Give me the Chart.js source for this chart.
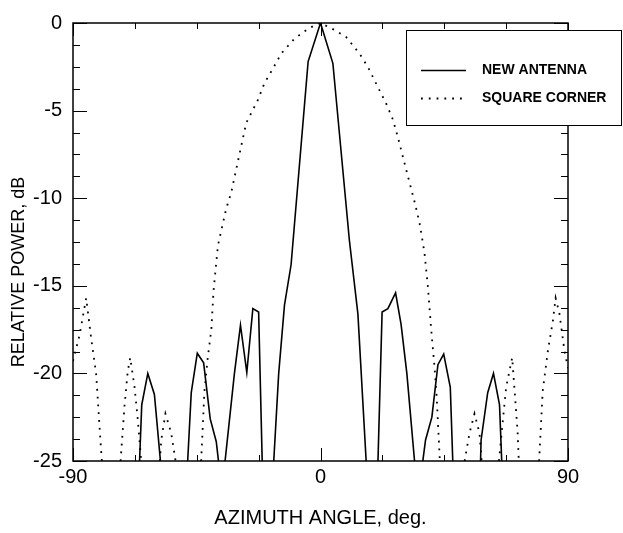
<!DOCTYPE html>
<html>
<head>
<meta charset="utf-8">
<script src="https://cdn.jsdelivr.net/npm/chart.js@4"></script>
<style>
    body {
        margin: 0;
        background: #fff;
    }
</style>
</head>
<body>
<canvas id="chart" width="623" height="533"></canvas>
<script>
// azimuth angles (deg) and relative power (dB), null = gap below -25 dB
const newAngle = [
    -65.8, -65.0, -62.8, -60.4, -58.2, null,
    -48.3, -47.0, -44.8, -42.5, -40.1, -37.9, -37.1, null,
    -34.7, -31.3, -29.1, -26.8, -24.6, -22.5, -21.2, null,
    -17.0, -15.2, -13.1, -10.7, -4.5, 0, 4.5, 10.5, 13.6, 16.6, null,
    20.9, 22.4, 24.5, 27.3, 29.3, 31.4, 34.2, null,
    37.2, 38.2, 40.5, 42.7, 44.8, 47.2, 48.1, null,
    58.2, 58.4, 60.8, 62.9, 65.1, 65.9
]
const newPower = [
    -25, -21.8, -20.0, -21.2, -25, null,
    -25, -21.1, -18.85, -19.4, -22.6, -23.9, -25, null,
    -25, -20.0, -17.25, -19.95, -16.3, -16.5, -25, null,
    -25, -20.0, -16.1, -13.8, -2.2, 0, -2.3, -12.4, -16.6, -25, null,
    -25, -16.5, -16.3, -15.4, -17.2, -20.0, -25, null,
    -25, -23.8, -22.5, -19.5, -18.9, -20.8, -25, null,
    -25, -23.8, -21.1, -20.0, -21.8, -25
]

const squareAngle = [
    -90, -87.6, -85.2, -83.4, -81.6, -79.7, -79.5, null,
    -72.7, -71.3, -70.1, -69.2, -67.6, -66.4, -65.2, null,
    -58.4, -57.9, -56.4, -54.3, -52.7, null,
    -43.4, -42.2, -41.0, -39.7, -38.9, -37.3, -34.3, -32.5, -28.8, -27.0, -22.8, -20.4, -17.3, -14.3, -9.5, -4.25, 0,
    4.5, 9.3, 14.2, 17.2, 20.2, 23.9, 26.3, 28.1, 29.9, 31.7, 34.2, 36.0, 37.8, 39.0, 40.2, 41.5, 42.3, 43.4, null,
    52.4, 54.2, 56.0, 57.8, 58.6, null,
    64.9, 66.3, 67.5, 69.7, 70.5, 71.7, 72.1, null,
    79.5, 80.8, 82.7, 84.5, 85.5, 86.9, 88.7, 90
]
const squarePower = [
    -19.3, -17.8, -15.7, -18.0, -20.0, -24.6, -25, null,
    -25, -21.9, -19.9, -19.1, -20.8, -22.7, -25, null,
    -25, -23.8, -22.3, -23.4, -25, null,
    -25, -21.0, -19.1, -17.5, -15.3, -12.7, -10.6, -9.7, -7.0, -5.7, -4.4, -3.45, -2.6, -1.75, -0.9, -0.3, 0,
    -0.35, -0.8, -1.75, -2.5, -3.45, -4.6, -5.5, -6.5, -7.6, -8.7, -10.2, -11.4, -13.1, -14.95, -17.4, -19.7, -21.5, -25, null,
    -25, -23.4, -22.3, -23.4, -25, null,
    -25, -22.7, -20.8, -19.1, -20.8, -23.4, -25, null,
    -25, -21.0, -18.7, -17.0, -15.7, -16.6, -18.7, -19.7
]

const seriesNames = ['NEW ANTENNA', 'SQUARE CORNER']
const xTicks = [-90, 0, 90]
const yTicks = [0, -5, -10, -15, -20, -25]
const xTitle = 'AZIMUTH ANGLE, deg.'
const yTitle = 'RELATIVE POWER, dB'

function toPoints(xs, ys) {
    return xs.map((x, i) => ({ x: x === null ? NaN : x, y: ys[i] }))
}

const font = "'Liberation Sans', Arial, sans-serif"

// frame, inward ticks, axis titles and boxed legend
const decorPlugin = {
    id: 'decor',
    afterDraw(chart) {
        const ctx = chart.ctx
        const a = chart.chartArea
        const xs = chart.scales.x
        const ys = chart.scales.y
        ctx.save()
        ctx.strokeStyle = '#000'
        ctx.lineWidth = 1.5
        ctx.strokeRect(a.left, a.top, a.right - a.left, a.bottom - a.top)

        ctx.lineWidth = 1
        ctx.beginPath()
        for (let v = -25; v <= 0.001; v += 1.25) {
            const py = Math.round(ys.getPixelForValue(v)) + 0.5
            const len = Math.abs(v % 5) < 0.01 ? 14 : 7
            ctx.moveTo(a.left, py); ctx.lineTo(a.left + len, py)
            ctx.moveTo(a.right, py); ctx.lineTo(a.right - len, py)
        }
        for (let v = -90; v <= 90.001; v += 22.5) {
            const px = Math.round(xs.getPixelForValue(v)) + 0.5
            const len = Math.abs(v % 90) < 0.01 ? 13 : 6
            ctx.moveTo(px, a.bottom); ctx.lineTo(px, a.bottom - len)
            ctx.moveTo(px, a.top); ctx.lineTo(px, a.top + len)
        }
        ctx.stroke()

        // axis titles
        ctx.fillStyle = '#000'
        ctx.textAlign = 'center'
        ctx.textBaseline = 'middle'
        ctx.font = '20px ' + font
        ctx.fillText(xTitle, (a.left + a.right) / 2, 518)
        ctx.save()
        ctx.translate(19, 272)
        ctx.rotate(-Math.PI / 2)
        ctx.font = '18px ' + font
        ctx.fillText(yTitle, 0, 0)
        ctx.restore()

        // legend box
        ctx.fillStyle = '#fff'
        ctx.fillRect(406, 30, 216, 96)
        ctx.lineWidth = 1
        ctx.strokeRect(406.5, 30.5, 215, 95)
        chart.data.datasets.forEach((ds, i) => {
            const ly = 70 + i * 28
            ctx.beginPath()
            ctx.lineWidth = ds.borderWidth
            ctx.setLineDash(ds.borderDash || [])
            ctx.moveTo(421, ly + 0.5)
            ctx.lineTo(466, ly + 0.5)
            ctx.stroke()
            ctx.setLineDash([])
            ctx.fillStyle = '#000'
            ctx.textAlign = 'left'
            ctx.font = 'bold 14px ' + font
            ctx.fillText(ds.label, 482, ly)
        })
        ctx.restore()
    }
}

new Chart(document.getElementById('chart'), {
    type: 'line',
    data: {
        datasets: [{
            label: seriesNames[0],
            data: toPoints(newAngle, newPower),
            borderColor: '#000',
            borderWidth: 1.6,
            pointRadius: 0,
            tension: 0,
            spanGaps: false
        }, {
            label: seriesNames[1],
            data: toPoints(squareAngle, squarePower),
            borderColor: '#000',
            borderWidth: 1.8,
            borderDash: [1.8, 6],
            pointRadius: 0,
            tension: 0,
            spanGaps: false
        }]
    },
    options: {
        responsive: false,
        animation: false,
        devicePixelRatio: 1,
        layout: {
            padding: { top: 19, right: 55, left: 0, bottom: 0 }
        },
        plugins: {
            legend: { display: false },
            tooltip: { enabled: false }
        },
        scales: {
            x: {
                type: 'linear',
                min: -90,
                max: 90,
                afterBuildTicks: s => { s.ticks = xTicks.map(v => ({ value: v })) },
                ticks: {
                    color: '#000',
                    font: { family: font, size: 20 },
                    padding: 4,
                    maxRotation: 0,
                    autoSkip: false
                },
                grid: { display: false, drawTicks: false },
                border: { display: false },
                afterFit: s => { s.height = 72 }
            },
            y: {
                type: 'linear',
                min: -25,
                max: 0,
                afterBuildTicks: s => { s.ticks = yTicks.map(v => ({ value: v })) },
                ticks: {
                    color: '#000',
                    font: { family: font, size: 20 },
                    padding: 11,
                    autoSkip: false
                },
                grid: { display: false, drawTicks: false },
                border: { display: false },
                afterFit: s => { s.width = 73 }
            }
        }
    },
    plugins: [decorPlugin]
})
</script>
</body>
</html>
